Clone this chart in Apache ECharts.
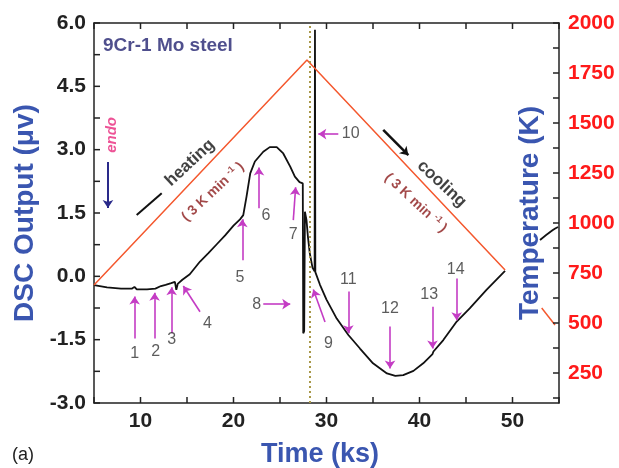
<!DOCTYPE html>
<html>
<head>
<meta charset="utf-8">
<script src="https://cdn.jsdelivr.net/npm/echarts@6/dist/echarts.min.js"></script>
<style>
  html, body { margin: 0; padding: 0; background: #fff; }
  #chart { width: 619px; height: 468px; }
</style>
</head>
<body>
<div id="chart"></div>
<script>
// DSC trace (ks, microvolt)
var dscTime = [5.0, 6.4, 7.9, 9.1, 9.35, 9.6, 10.7, 11.6, 12.2, 12.7, 13.3, 13.7, 13.85, 14.0, 14.5, 15.3,
  16.4, 17.3, 18.2, 19.1, 20.0, 20.7, 21.05, 21.4, 21.8, 22.3, 23.2, 23.9, 24.65, 25.35, 26.1, 26.6,
  27.1, 27.45, 27.5, 27.6, 27.68, 27.85, 28.0, 28.2, 28.5, 28.72, 28.76, 28.8, 29.3, 30.0, 31.1,
  32.35, 33.6, 35.0, 36.5, 37.4, 38.25, 39.35, 40.4, 41.4, 41.5, 42.56, 44.0, 45.4, 47.2, 49.2];
var dscOutput = [-0.21, -0.26, -0.29, -0.29, -0.25, -0.31, -0.31, -0.29, -0.23, -0.2, -0.16, -0.13, -0.32, -0.18, -0.08, 0.05,
  0.35, 0.55, 0.76, 0.97, 1.2, 1.35, 1.45, 1.89, 2.44, 2.72, 2.95, 3.06, 3.06, 2.91, 2.6, 2.36,
  2.23, 2.2, -1.35, -1.3, 1.53, 1.33, 0.94, 0.55, 0.2, 0.12, 5.84, 0.1, -0.2, -0.55, -1.0,
  -1.39, -1.71, -2.06, -2.3, -2.36, -2.34, -2.24, -2.06, -1.84, -1.78, -1.51, -1.07, -0.76, -0.32, 0.13];

// temperature programme (ks, K)
var tempTime = [5.0, 27.9, 49.2];
var tempK = [690, 1815, 765];

// axis ranges and tick values
var timeMin = 5, timeMax = 55;
var dscMin = -3, dscMax = 6;
var tempMin = 100, tempMax = 2000, tempTickStep = 125, tempLabelStep = 250;
var timeTicks = [5, 10, 15, 20, 25, 30, 35, 40, 45, 50, 55];
var dscTicks = [-3, -2.25, -1.5, -0.75, 0, 0.75, 1.5, 2.25, 3, 3.75, 4.5, 5.25, 6];
var tempTicks = [125, 250, 375, 500, 625, 750, 875, 1000, 1125, 1250, 1375, 1500, 1625, 1750, 1875, 2000];
var holdTime = 28.2;

// numbered event markers: label, arrow tail, arrow head
var eventLabels = ['1', '2', '3', '4', '5', '6', '7', '8', '9', '10', '11', '12', '13', '14'];
var labelPos = [[9.37, -1.82], [11.63, -1.79], [13.35, -1.51], [17.2, -1.13], [20.7, -0.03], [23.5, 1.45],
  [26.43, 0.98], [22.5, -0.68], [30.2, -1.59], [32.6, 3.37], [32.35, -0.07], [36.83, -0.76], [41.05, -0.44], [43.9, 0.15]];
var arrowTail = [[9.37, -1.47], [11.52, -1.47], [13.35, -1.35], [16.4, -0.84], [20.95, 0.38], [22.74, 1.61],
  [26.43, 1.33], [23.2, -0.66], [29.84, -1.08], [31.27, 3.37], [32.35, -0.36], [36.83, -1.19], [41.4, -0.72], [44.0, -0.05]];
var arrowHead = [[9.37, -0.48], [11.52, -0.39], [13.35, -0.26], [14.6, -0.23], [20.95, 1.35], [22.74, 2.58],
  [26.68, 2.11], [26.1, -0.66], [28.58, -0.31], [29.12, 3.37], [32.35, -1.35], [36.83, -2.18], [41.4, -1.71], [44.0, -1.04]];

var font = "'Liberation Sans', Arial, sans-serif";
var blue = '#3a56b0';
var magenta = '#c43cc4';
var rateText = '( 3 K min {s|-1} )';
var rateStyle = { color: '#8b1a1a', fontWeight: 'bold', fontSize: 14, fontFamily: font,
  rich: { s: { fontSize: 9, fontWeight: 'bold', color: '#8b1a1a', padding: [0, 0, 8, 0] } } };

function note(text, t, v, label) {
  return { value: [t, v], label: Object.assign({ show: true, formatter: text, position: 'inside', fontFamily: font }, label) };
}

var notes = eventLabels.map(function (s, i) {
  return note(s, labelPos[i][0], labelPos[i][1], { color: '#333', fontSize: 16 });
});
notes.push(note('9Cr-1 Mo steel', 5.97, 5.46, { position: 'right', distance: 0, color: '#232370', fontSize: 19, fontWeight: 'bold' }));
notes.push(note('endo', 6.94, 3.35, { rotate: 90, color: '#e8287c', fontSize: 15, fontWeight: 'bold', fontStyle: 'italic' }));
notes.push(note('heating', 15.32, 2.69, { rotate: 43, color: '#111', fontSize: 17, fontWeight: 'bold' }));
notes.push(note('cooling', 42.39, 2.19, { rotate: -43, color: '#111', fontSize: 17, fontWeight: 'bold' }));
notes.push(note(rateText, 17.8, 2.0, Object.assign({ rotate: 43 }, rateStyle)));
notes.push(note(rateText, 39.6, 1.74, Object.assign({ rotate: -43 }, rateStyle)));

var arrowLines = arrowTail.map(function (p, i) {
  return [{ coord: p }, { coord: arrowHead[i] }];
});
arrowLines.push([{ coord: [6.5, 2.71], lineStyle: { color: '#2a2a8a', width: 2 } }, { coord: [6.5, 1.62] }]);
arrowLines.push([{ coord: [36.1, 3.47], lineStyle: { color: '#111', width: 2.5 } }, { coord: [38.8, 2.87] }]);

var plainLines = [[{ coord: [9.59, 1.45] }, { coord: [12.28, 1.97] }]];

var gridLeft = 94, gridRight = 60, gridTop = 23, gridBottom = 65;
var plotH = 468 - gridTop - gridBottom;
var axisLineStyle = { color: '#222', width: 1.5 };

// second grid has the same pixel scale as the temperature axis but starts at
// the first tick, so the labels can be counted from its min
var tickGridBottom = gridBottom + plotH * (tempTickStep - tempMin) / (tempMax - tempMin);

var chart = echarts.init(document.getElementById('chart'));
chart.setOption({
  animation: false,
  textStyle: { fontFamily: font },
  grid: [
    { left: gridLeft, right: gridRight, top: gridTop, bottom: gridBottom, outerBoundsMode: 'none' },
    { left: gridLeft, right: gridRight, top: gridTop, bottom: tickGridBottom, outerBoundsMode: 'none' }
  ],
  xAxis: [{
    type: 'value', min: timeMin, max: timeMax, interval: 5,
    name: 'Time (ks)', nameLocation: 'middle', nameGap: 38,
    nameTextStyle: { color: blue, fontSize: 27, fontWeight: 'bold', padding: [0, 13, 0, 0] },
    axisLine: { onZero: false, lineStyle: axisLineStyle }, axisTick: { show: false }, splitLine: { show: false },
    axisLabel: { color: '#222', fontSize: 21, fontWeight: 'bold', margin: 8,
      formatter: function (v) { return v % 10 === 0 ? String(v) : ''; } }
  }, {
    type: 'value', position: 'top', min: timeMin, max: timeMax, interval: 5,
    axisLine: { show: true, onZero: false, lineStyle: axisLineStyle }, axisTick: { show: false },
    axisLabel: { show: false }, splitLine: { show: false }
  }, {
    type: 'value', gridIndex: 1, min: timeMin, max: timeMax, show: false
  }],
  yAxis: [{
    type: 'value', min: dscMin, max: dscMax, interval: 1.5,
    name: 'DSC Output (\u03bcv)', nameLocation: 'middle', nameGap: 52, nameRotate: 90,
    nameTextStyle: { color: blue, fontSize: 28, fontWeight: 'bold' },
    axisLine: { show: true, onZero: false, lineStyle: axisLineStyle }, axisTick: { show: false },
    splitLine: { show: false },
    axisLabel: { color: '#222', fontSize: 21, fontWeight: 'bold', margin: 8,
      formatter: function (v) { return v.toFixed(1); } }
  }, {
    type: 'value', position: 'right', min: tempMin, max: tempMax,
    name: 'Temperature (K)', nameLocation: 'middle', nameGap: -43, nameRotate: 90,
    nameTextStyle: { color: blue, fontSize: 28, fontWeight: 'bold' },
    axisLine: { show: true, onZero: false, lineStyle: axisLineStyle },
    axisTick: { show: false }, axisLabel: { show: false }, splitLine: { show: false }
  }, {
    type: 'value', gridIndex: 1, position: 'right', min: tempTickStep, max: tempMax, interval: tempTickStep,
    axisLine: { show: false }, axisTick: { show: false }, splitLine: { show: false },
    axisLabel: { color: '#ff1a1a', fontSize: 21, fontWeight: 'bold', margin: 9,
      formatter: function (v) { return v % tempLabelStep === 0 ? String(v) : ''; } }
  }],
  series: [{
    name: 'DSC', type: 'line', yAxisIndex: 0, showSymbol: false, symbol: 'none',
    lineStyle: { color: '#111', width: 1.8 },
    data: dscTime.map(function (t, i) { return [t, dscOutput[i]]; }),
    markLine: {
      silent: true, symbol: ['none', 'none'], label: { show: false },
      lineStyle: { color: '#a89848', width: 2, type: [2, 3] },
      data: [{ xAxis: holdTime }]
    }
  }, {
    name: 'Temperature', type: 'line', yAxisIndex: 1, showSymbol: false, symbol: 'none',
    lineStyle: { color: '#f4582e', width: 1.5 },
    data: tempTime.map(function (t, i) { return [t, tempK[i]]; })
  }, {
    name: 'stubDSC', type: 'line', yAxisIndex: 0, showSymbol: false, symbol: 'none', smooth: true,
    lineStyle: { color: '#111', width: 1.8 },
    data: [[52.96, 0.86], [54.3, 1.09], [54.9, 1.17]]
  }, {
    name: 'stubT', type: 'line', yAxisIndex: 1, showSymbol: false, symbol: 'none',
    lineStyle: { color: '#f4582e', width: 1.5 },
    data: [[53.14, 575], [54.57, 490]]
  }, {
    name: 'heatMark', type: 'line', yAxisIndex: 0, data: [],
    markLine: {
      silent: true, symbol: ['none', 'none'], label: { show: false },
      lineStyle: { color: '#111', width: 2, type: 'solid' },
      data: plainLines
    }
  }, {
    name: 'notes', type: 'scatter', yAxisIndex: 0, symbolSize: 0, z: 5,
    data: notes,
    markLine: {
      silent: true, symbol: ['none', 'arrow'], symbolSize: 8, label: { show: false },
      lineStyle: { color: magenta, width: 1.6, type: 'solid' },
      data: arrowLines
    }
  }]
});

// inward tick marks, placed through the axes' own scales
var tickLen = 6;
var px = function (v) { return chart.convertToPixel({ xAxisIndex: 0 }, v); };
var pyDsc = function (v) { return chart.convertToPixel({ yAxisIndex: 0 }, v); };
var pyTemp = function (v) { return chart.convertToPixel({ yAxisIndex: 1 }, v); };
var xL = px(timeMin), xR = px(timeMax), yB = pyDsc(dscMin), yT = pyDsc(dscMax);
var tickEls = [];
function tick(x1, y1, x2, y2) {
  tickEls.push({ type: 'line', silent: true, z: 10,
    shape: { x1: x1, y1: y1, x2: x2, y2: y2 },
    style: { stroke: '#222', lineWidth: 1.5 } });
}
timeTicks.forEach(function (t) {
  var x = px(t);
  tick(x, yB, x, yB - tickLen);
  tick(x, yT, x, yT + tickLen);
});
dscTicks.forEach(function (v) {
  var y = pyDsc(v);
  tick(xL, y, xL + tickLen, y);
});
tempTicks.forEach(function (k) {
  var y = pyTemp(k);
  tick(xR, y, xR - tickLen, y);
});
tickEls.push({ type: 'text', left: 12, top: 446, silent: true,
  style: { text: '(a)', fontSize: 18, fontFamily: font, fill: '#222' } });
chart.setOption({ graphic: tickEls });
</script>
</body>
</html>
